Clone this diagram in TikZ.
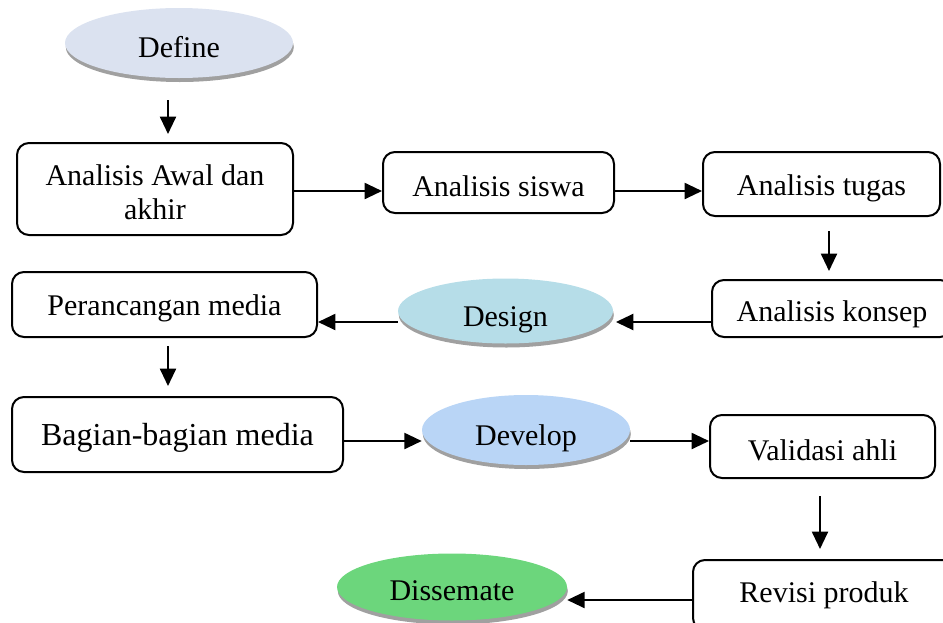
\documentclass[tikz,border=0pt]{standalone}
\usepackage{fontspec}
\setmainfont{Liberation Serif}
\usetikzlibrary{arrows.meta,shadows,shapes.geometric}
\definecolor{cdefine}{HTML}{DBE2F0}
\definecolor{cdesign}{HTML}{B6DDE8}
\definecolor{cdevelop}{HTML}{B9D5F6}
\definecolor{cdissem}{HTML}{6CD67C}
\definecolor{shgray}{HTML}{A0A0A0}
\newcommand{\dn}[2]{\raisebox{-#1}[\height][\depth]{#2}}
\begin{document}
\begin{tikzpicture}[x=0.75pt,y=-0.75pt,
  txt/.style={font=\fontsize{22.5}{25.5}\selectfont},
  box/.style={draw,line width=1.5pt,rounded corners=9pt,inner sep=0pt,txt},
  ell/.style={ellipse,inner sep=0pt,txt,
    drop shadow={shadow xshift=0.6pt,shadow yshift=-3pt,fill=shgray,opacity=1}},
  arr/.style={line width=1.5pt,-{Triangle[length=13pt,width=12pt]}}]
\useasboundingbox (0,0) rectangle (943,622);
\clip (0,0) rectangle (943,622);

% ellipses
\node[ell,fill=cdefine,minimum width=171pt,minimum height=52.5pt] (define) at (179,43) {\dn{3pt}{Define}};
\node[ell,fill=cdesign,minimum width=161.25pt,minimum height=48.75pt] (design) at (505.5,311) {\dn{6.75pt}{Design}};
\node[ell,fill=cdevelop,minimum width=156pt,minimum height=52.5pt] (develop) at (526,430) {\dn{6pt}{Develop}};
\node[ell,fill=cdissem,minimum width=172.5pt,minimum height=50.25pt] (dissem) at (452,587) {\dn{3pt}{Dissemate}};

% boxes
\node[box,minimum width=207pt,minimum height=69pt] (b1) at (155,189) {\dn{5pt}{\begin{tabular}{@{}c@{}}Analisis Awal dan\\akhir\end{tabular}}};
\node[box,minimum width=173.25pt,minimum height=45.75pt] (b2) at (498.5,182.5) {\dn{2.5pt}{Analisis siswa}};
\node[box,minimum width=177.75pt,minimum height=48pt] (b3) at (821.5,184) {\dn{3pt}{Analisis tugas}};
\node[box,minimum width=180pt,minimum height=42.75pt] (b4) at (832,308.5) {\dn{4.5pt}{Analisis konsep}};
\node[box,minimum width=228.75pt,minimum height=48.75pt] (b5) at (164.5,304.5) {\dn{3pt}{Perancangan media}};
\node[box,minimum width=248.25pt,minimum height=56.25pt,font=\fontsize{24}{27}\selectfont] (b6) at (177.5,434.5) {\dn{2.5pt}{Bagian-bagian media}};
\node[box,minimum width=168.75pt,minimum height=47.25pt] (b7) at (822.5,446.5) {\dn{2.5pt}{Validasi ahli}};
\node[box,minimum width=196.5pt,minimum height=52.5pt] (b8) at (824,595) {\dn{0.5pt}{Revisi produk}};

% helper coordinates
\coordinate (xa) at (168,0);
\coordinate (xb) at (829,0);
\coordinate (xc) at (820,0);
\coordinate (ra) at (0,191);
\coordinate (rb) at (0,322);
\coordinate (rc) at (0,441);
\coordinate (rd) at (0,600);

% vertical arrows
\draw[arr,shorten <=16.5pt,shorten >=6pt] (define.south -| xa) -- (b1.north -| xa);
\draw[arr,shorten <=10.5pt,shorten >=6pt] (b3.south -| xb) -- (b4.north -| xb);
\draw[arr,shorten <=6pt,shorten >=7.5pt] (b5.south -| xa) -- (b6.north -| xa);
\draw[arr,shorten <=12.75pt,shorten >=7.5pt] (b7.south -| xc) -- (b8.north -| xc);

% horizontal arrows
\draw[arr] (b1.east |- ra) -- (b2.west |- ra);
\draw[arr] (b2.east |- ra) -- (b3.west |- ra);
\draw[arr,shorten >=2pt] (b4.west |- rb) -- (design.east |- rb);
\draw[arr] (design.west |- rb) -- (b5.east |- rb);
\draw[arr] (b6.east |- rc) -- (develop.west |- rc);
\draw[arr] (develop.east |- rc) -- (b7.west |- rc);
\draw[arr] (b8.west |- rd) -- (dissem.east |- rd);
\end{tikzpicture}
\end{document}
